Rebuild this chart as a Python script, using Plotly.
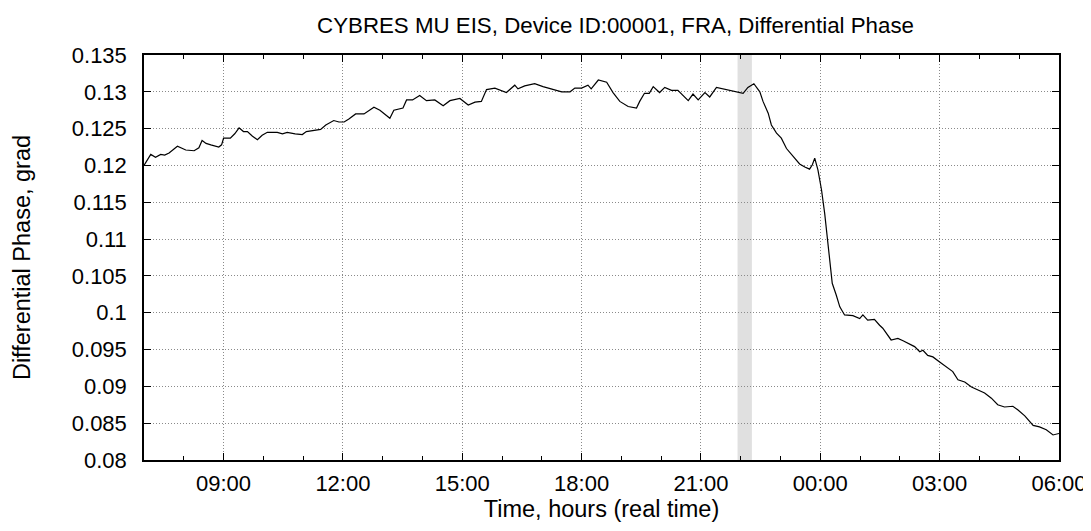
import plotly.graph_objects as go
import pandas as pd

# hours since 07:00 of first day
hours = [0.00, 0.08, 0.17, 0.29, 0.42, 0.52, 0.63, 0.84, 0.95, 1.05, 1.26, 1.38, 1.46, 1.56, 1.68, 1.88, 1.95,
         2.00, 2.17, 2.28, 2.39, 2.50, 2.60, 2.72, 2.85, 2.97, 3.10, 3.35, 3.48, 3.60, 3.80, 3.98, 4.08, 4.19,
         4.44, 4.57, 4.77, 4.90, 5.03, 5.15, 5.32, 5.53, 5.65, 5.78, 5.93, 6.05, 6.18, 6.28, 6.51, 6.60, 6.75,
         6.93, 7.10, 7.31, 7.52, 7.69, 7.94, 8.15, 8.32, 8.48, 8.61, 8.82, 9.11, 9.32, 9.40, 9.57, 9.82, 10.03,
         10.29, 10.50, 10.71, 10.83, 11.00, 11.16, 11.24, 11.42, 11.63, 11.79, 11.96, 12.17, 12.38, 12.46, 12.58,
         12.70, 12.80, 12.96, 13.09, 13.26, 13.42, 13.68, 13.80, 13.93, 14.10, 14.22, 14.39, 14.56, 14.76, 15.06,
         15.18, 15.33, 15.48, 15.56, 15.69, 15.77, 15.90, 16.02, 16.15, 16.31, 16.48, 16.61, 16.73, 16.80, 16.86,
         16.94, 17.03, 17.11, 17.19, 17.25, 17.30, 17.40, 17.49, 17.61, 17.82, 17.99, 18.07, 18.19, 18.36, 18.49,
         18.57, 18.78, 18.95, 19.08, 19.25, 19.37, 19.50, 19.58, 19.70, 19.83, 20.00, 20.21, 20.33, 20.46, 20.63,
         20.80, 20.96, 21.13, 21.30, 21.46, 21.63, 21.84, 21.97, 22.14, 22.35, 22.51, 22.68, 22.85, 23.00]

phase = [0.1200, 0.1207, 0.1215, 0.1211, 0.1215, 0.1214, 0.1217, 0.1226, 0.1223, 0.1221, 0.1220, 0.1224, 0.1234,
         0.1230, 0.1228, 0.1225, 0.1228, 0.1237, 0.1237, 0.1243, 0.1251, 0.1246, 0.1246, 0.1240, 0.1235, 0.1241,
         0.1245, 0.1245, 0.1243, 0.1245, 0.1243, 0.1242, 0.1246, 0.1247, 0.1249, 0.1255, 0.1261, 0.1259, 0.1259,
         0.1263, 0.1270, 0.1270, 0.1274, 0.1279, 0.1275, 0.1270, 0.1264, 0.1275, 0.1278, 0.1289, 0.1289, 0.1295,
         0.1288, 0.1289, 0.1281, 0.1288, 0.1291, 0.1282, 0.1286, 0.1287, 0.1303, 0.1305, 0.1299, 0.1309, 0.1304,
         0.1308, 0.1311, 0.1307, 0.1303, 0.1300, 0.1300, 0.1305, 0.1305, 0.1309, 0.1304, 0.1316, 0.1313, 0.1299,
         0.1287, 0.1280, 0.1278, 0.1287, 0.1298, 0.1298, 0.1307, 0.1299, 0.1306, 0.1302, 0.1302, 0.1288, 0.1297,
         0.1289, 0.1299, 0.1293, 0.1306, 0.1304, 0.1302, 0.1298, 0.1306, 0.1311, 0.1300, 0.1287, 0.1271, 0.1255,
         0.1244, 0.1237, 0.1223, 0.1213, 0.1202, 0.1198, 0.1195, 0.1201, 0.1210, 0.1194, 0.1167, 0.1135, 0.1094,
         0.1058, 0.1040, 0.1024, 0.1008, 0.0997, 0.0996, 0.0992, 0.0997, 0.0990, 0.0991, 0.0983, 0.0979, 0.0963,
         0.0965, 0.0962, 0.0957, 0.0954, 0.0947, 0.0949, 0.0942, 0.0940, 0.0933, 0.0924, 0.0920, 0.0909, 0.0906,
         0.0899, 0.0895, 0.0891, 0.0884, 0.0875, 0.0872, 0.0873, 0.0868, 0.0860, 0.0847, 0.0845, 0.0841, 0.0834,
         0.0836]

y_ticks = [0.08, 0.085, 0.09, 0.095, 0.1, 0.105, 0.11, 0.115, 0.12, 0.125, 0.13, 0.135]
y_tick_labels = ["0.08", "0.085", "0.09", "0.095", "0.1", "0.105", "0.11", "0.115", "0.12", "0.125", "0.13", "0.135"]

band_start_h = 14.92
band_end_h = 15.28

start = pd.Timestamp("2000-01-01 07:00")
times = [start + pd.Timedelta(hours=h) for h in hours]
end = start + pd.Timedelta(hours=23)

FONT = "Liberation Sans, Arial, sans-serif"

# page body has an 8px margin: figure drawn at (8,8)
W, H = 1083, 523
L, R, T, B = 136, 32, 47, 71

fig = go.Figure()
fig.add_trace(go.Scatter(x=times, y=phase, mode="lines",
                         line=dict(color="black", width=1.2), showlegend=False))

fig.add_shape(type="rect", xref="x", yref="y domain",
              x0=start + pd.Timedelta(hours=band_start_h), x1=start + pd.Timedelta(hours=band_end_h),
              y0=0, y1=1, fillcolor="#e0e0e0", line=dict(width=0), layer="below")

plot_w = W - L - R
fig.update_layout(
    width=W, height=H,
    margin=dict(l=L, r=R, t=T, b=B),
    paper_bgcolor="white", plot_bgcolor="white",
    font=dict(family=FONT, size=22, color="black"),
    title=dict(text="CYBRES MU EIS, Device ID:00001, FRA, Differential Phase",
               x=0.5 + 14 / plot_w, xref="paper", xanchor="center",
               y=1 - 17 / H, yref="container", yanchor="middle",
               font=dict(size=22.3, family=FONT, color="black")),
)

grid = dict(showgrid=True, gridcolor="#8a8a8a", griddash="1px,2px", gridwidth=1)

fig.update_xaxes(
    type="date", range=[start, end], automargin=False,
    tick0="2000-01-01 09:00", dtick=3 * 3600000, tickformat="%H:%M",
    ticks="inside", ticklen=7, tickcolor="black", tickwidth=1, ticklabelstandoff=3,
    showline=True, linecolor="black", linewidth=1.5, mirror="allticks",
    zeroline=False,
    tickfont=dict(size=22, family=FONT),
    minor=dict(dtick=3600000, tick0="2000-01-01 07:00", ticks="inside", ticklen=4,
               tickcolor="black", showgrid=False),
    title=dict(text="Time, hours (real time)", font=dict(size=23.5, family=FONT), standoff=5),
    **grid,
)

fig.update_yaxes(
    range=[0.08, 0.135], tickvals=y_ticks, ticktext=y_tick_labels, automargin=False,
    ticks="inside", ticklen=7, tickcolor="black", tickwidth=1, ticklabelstandoff=11,
    showline=True, linecolor="black", linewidth=1.5, mirror="allticks",
    zeroline=False,
    tickfont=dict(size=22, family=FONT),
    title=dict(text="Differential Phase, grad", font=dict(size=23.5, family=FONT), standoff=35),
    **grid,
)

fig.write_html("out.html")
